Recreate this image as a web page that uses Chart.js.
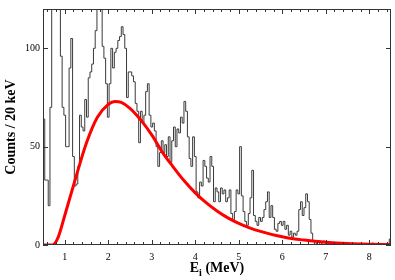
<!DOCTYPE html>
<html>
<head>
<meta charset="utf-8">
<script src="https://cdn.jsdelivr.net/npm/chart.js@4.4.1/dist/chart.umd.min.js"></script>
<style>
  html, body { margin: 0; padding: 0; background: #fff; }
</style>
</head>
<body>
<canvas id="spectrum" width="395" height="280"></canvas>
<script>
// tick labels
const xTicks = [1, 2, 3, 4, 5, 6, 7, 8];
const yTicks = [0, 50, 100];

// histogram: 0.04 MeV bins starting at 0.50 MeV
const binStart = 0.5;
const binWidth = 0.04;
const counts = [
    64, 33, 33, 20, 70, 135, 150, 140, 150, 135,   // 0.50
    96, 70, 66, 50, 50, 90, 105, 45, 30, 31,       // 0.90
    40, 66, 60, 58, 74, 65, 85, 88, 92, 100,       // 1.30
    109, 128, 140, 132, 101, 95, 82, 65, 82, 100,  // 1.70
    90, 98, 100, 104, 106, 111, 107, 100, 75, 88,  // 2.10
    88, 86, 83, 72, 68, 52, 68, 62, 66, 78,        // 2.50
    82, 66, 60, 62, 58, 50, 40, 47, 53, 47,        // 2.90
    51, 45, 55, 42, 53, 60, 50, 59, 57, 65,        // 3.30
    62, 73, 68, 55, 44, 40, 55, 45, 27, 24,        // 3.70
    32, 30, 43, 40, 34, 32, 45, 40, 22, 29,        // 4.10
    27, 22, 29, 26, 28, 22, 24, 28, 16, 12,        // 4.50
    17, 28, 26, 50, 25, 17, 12, 10, 16, 24,        // 4.90
    38, 15, 12, 10, 14, 12, 14, 18, 22, 27,        // 5.30
    14, 20, 14, 8, 7, 11, 12, 10, 12, 8,           // 5.70
    10, 5, 7, 4, 6, 5, 7, 18, 22, 15,              // 6.10
    19, 26, 22, 13, 6, 2, 0, 1, 2, 0,              // 6.50
    1, 2, 1, 0, 1, 0, 0, 1, 0, 0,                  // 6.90
    0, 0, 1, 0, 0, 0, 0, 0, 0, 0,                  // 7.30
    0, 0, 0, 0, 0, 0, 0, 0, 0, 1,                  // 7.70
    0, 0, 0, 0, 0, 0, 0, 0, 0, 3                   // 8.10
];

// red fit curve
const fitE = [0.5, 0.72, 0.85, 1.0, 1.25, 1.5, 1.75, 2.0, 2.15, 2.3, 2.5, 2.75, 3.0, 3.25, 3.5, 3.75,
              4.0, 4.25, 4.5, 4.75, 5.0, 5.25, 5.5, 5.75, 6.0, 6.25, 6.5, 6.75, 7.0, 7.5, 8.0, 8.5];
const fitCounts = [0, 0, 4, 15, 34, 52, 65, 71.5, 73, 72.5, 69.5, 63.5, 56, 47, 39.5, 32.5,
                   26.5, 21.5, 17.3, 13.8, 11, 8.7, 6.9, 5.4, 4.2, 3.2, 2.5, 1.9, 1.4, 0.75, 0.4, 0.2];

const histPoints = counts.map((c, i) => ({x: binStart + i * binWidth, y: c}));
histPoints.push({x: binStart + counts.length * binWidth, y: counts[counts.length - 1]});
const fitPoints = fitE.map((e, i) => ({x: e, y: fitCounts[i]}));

const serif = 'Liberation Serif';

/*
 * Frame with inward ticks, axis titles
 */
const frame = {
    id: 'frame',
    afterDraw(chart) {
        const {ctx, chartArea: {left, right, top, bottom}, scales: {x, y}} = chart;
        ctx.save();
        ctx.strokeStyle = '#333';
        ctx.lineWidth = 1;
        ctx.strokeRect(Math.round(left) + 0.5, Math.round(top) + 0.5,
                       Math.round(right - left) - 1, Math.round(bottom - top) - 1);

        ctx.beginPath();
        for (let v = 0.6; v < 8.45; v += 0.2) {
            let px = Math.round(x.getPixelForValue(v)) + 0.5;
            let major = Math.abs(v - Math.round(v)) < 0.01;
            let len = major ? 5 : 3;
            ctx.moveTo(px, bottom);
            ctx.lineTo(px, bottom - len);
            ctx.moveTo(px, top);
            ctx.lineTo(px, top + len);
        }
        yTicks.forEach(v => {
            let py = Math.round(y.getPixelForValue(v)) + 0.5;
            ctx.moveTo(left, py);
            ctx.lineTo(left + 5, py);
            ctx.moveTo(right, py);
            ctx.lineTo(right - 5, py);
        });
        ctx.stroke();

        ctx.fillStyle = '#000';
        // y title
        ctx.save();
        ctx.translate(11, (top + bottom) / 2);
        ctx.rotate(-Math.PI / 2);
        ctx.font = 'bold 14px "' + serif + '"';
        ctx.textAlign = 'center';
        ctx.textBaseline = 'middle';
        ctx.fillText('Counts / 20 keV', 0, 0);
        ctx.restore();

        // x title with subscript
        let big = 'bold 14px "' + serif + '"';
        let small = 'bold 10px "' + serif + '"';
        ctx.font = big;
        let wE = ctx.measureText('E').width;
        let wRest = ctx.measureText(' (MeV)').width;
        ctx.font = small;
        let wi = ctx.measureText('i').width;
        let x0 = (left + right) / 2 - (wE + wi + wRest) / 2;
        let base = 272;
        ctx.textAlign = 'left';
        ctx.textBaseline = 'alphabetic';
        ctx.font = big;
        ctx.fillText('E', x0, base);
        ctx.font = small;
        ctx.fillText('i', x0 + wE, base + 4);
        ctx.font = big;
        ctx.fillText(' (MeV)', x0 + wE + wi, base);
        ctx.restore();
    }
};

let ctx = document.getElementById('spectrum').getContext('2d');
let spectrumChart = new Chart(ctx, {
    type: 'line',
    plugins: [frame],
    data: {
        datasets: [
            {
                data: fitPoints,
                borderColor: '#ff0000',
                borderWidth: 3,
                pointRadius: 0,
                cubicInterpolationMode: 'monotone',
                fill: false
            },
            {
                data: histPoints,
                borderColor: '#3a3a3a',
                borderWidth: 1,
                pointRadius: 0,
                stepped: 'before',
                fill: false
            }
        ]
    },
    options: {
        responsive: false,
        animation: false,
        layout: {
            padding: {top: 4, right: 4, left: 0, bottom: 0}
        },
        plugins: {
            legend: {display: false},
            tooltip: {enabled: false}
        },
        scales: {
            x: {
                type: 'linear',
                min: 0.5,
                max: 8.5,
                grid: {display: false, drawTicks: false},
                border: {display: false},
                ticks: {
                    color: '#000',
                    font: {family: serif, size: 10},
                    padding: 6,
                    maxRotation: 0,
                    autoSkip: false
                },
                afterBuildTicks: s => { s.ticks = xTicks.map(v => ({value: v})); },
                afterFit: s => { s.height = 35; }
            },
            y: {
                min: 0,
                max: 120,
                grid: {display: false, drawTicks: false},
                border: {display: false},
                ticks: {
                    color: '#000',
                    font: {family: serif, size: 10},
                    padding: 3
                },
                afterBuildTicks: s => { s.ticks = yTicks.map(v => ({value: v})); },
                afterFit: s => { s.width = 43; }
            }
        }
    }
});
</script>
</body>
</html>
